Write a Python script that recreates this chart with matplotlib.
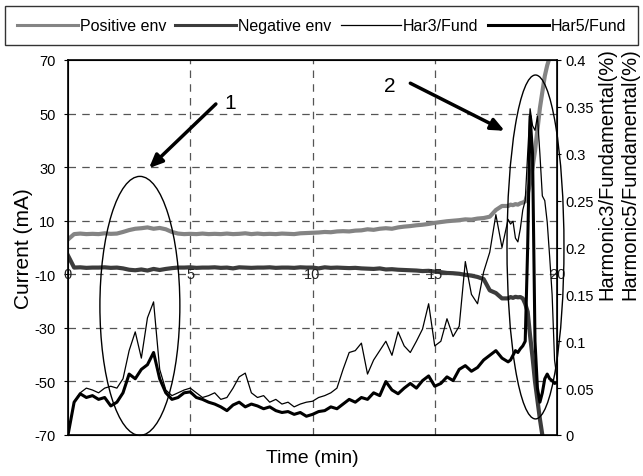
import matplotlib
matplotlib.use("Agg")
import matplotlib.pyplot as plt
from matplotlib.patches import Ellipse

plt.rcParams['font.family'] = ['Liberation Sans', 'DejaVu Sans']

# time axis (min)
t = [0, 0.25, 0.5, 0.75, 1.0, 1.25, 1.5, 1.75, 2.0, 2.25, 2.5, 2.75, 3.0, 3.25, 3.5, 3.75,
     4.0, 4.25, 4.5, 4.75, 5.0, 5.25, 5.5, 5.75, 6.0, 6.25, 6.5, 6.75, 7.0, 7.25, 7.5, 7.75,
     8.0, 8.25, 8.5, 8.75, 9.0, 9.25, 9.5, 9.75, 10.0, 10.25, 10.5, 10.75, 11.0, 11.25, 11.5, 11.75,
     12.0, 12.25, 12.5, 12.75, 13.0, 13.25, 13.5, 13.75, 14.0, 14.25, 14.5, 14.75, 15.0, 15.25, 15.5, 15.75,
     16.0, 16.25, 16.5, 16.75, 17.0, 17.25, 17.5, 17.75, 18.0, 18.1, 18.2, 18.3, 18.4, 18.5, 18.6, 18.7,
     18.8, 18.9, 19.0, 19.1, 19.2, 19.3, 19.4, 19.5, 19.6, 19.7, 19.8, 19.9, 20.0]

# positive / negative current envelope (mA)
pos_env = [3.0, 5.0, 5.2, 5.0, 5.1, 5.0, 5.3, 5.1, 5.2, 5.8, 6.5, 7.0, 7.2, 7.5, 7.0, 7.3,
           6.8, 5.8, 5.2, 5.0, 5.1, 5.0, 5.2, 5.0, 5.1, 5.0, 5.2, 5.0, 5.1, 5.3, 5.0, 5.2,
           5.0, 5.1, 5.0, 5.2, 5.1, 5.0, 5.3, 5.4, 5.5, 5.6, 5.8, 5.7, 6.0, 6.1, 6.0, 6.3,
           6.4, 6.8, 6.6, 7.0, 7.2, 7.0, 7.5, 7.8, 8.0, 8.3, 8.5, 8.8, 9.2, 9.5, 9.8, 10.0,
           10.2, 10.5, 10.4, 10.8, 11.0, 11.5, 14.0, 15.5, 15.5, 16.0, 15.8, 16.2, 16.0, 16.5, 16.8, 17.2,
           20.0, 24.0, 30.0, 36.0, 44.0, 52.0, 58.0, 64.0, 68.0, 71.0, 75.0, 78.0, 80.0]
neg_env = [-3.0, -7.5, -7.4, -7.6, -7.5, -7.5, -7.4, -7.6, -7.5, -7.8, -8.3, -8.5, -8.2, -8.6, -8.0, -8.4,
           -8.0, -7.7, -7.5, -7.5, -7.4, -7.6, -7.5, -7.5, -7.4, -7.6, -7.5, -7.8, -7.4, -7.5, -7.6, -7.5,
           -7.5, -7.4, -7.6, -7.5, -7.5, -7.6, -7.4, -7.5, -7.5, -7.8, -7.4, -7.6, -7.5, -7.6, -7.7, -7.6,
           -7.8, -7.9, -8.0, -7.8, -8.2, -8.1, -8.3, -8.4, -8.5, -8.6, -8.8, -8.7, -9.0, -9.2, -9.5, -9.6,
           -9.8, -10.2, -10.5, -11.0, -11.8, -16.0, -17.0, -19.0, -19.0, -18.5, -18.8, -18.4, -18.6, -18.5, -19.0, -21.0,
           -24.0, -33.0, -41.0, -50.0, -57.0, -64.0, -70.0, -75.0, -78.0, -80.0, -80.0, -80.0, -80.0]

# harmonic ratios
har3 = [0.0, 0.035, 0.045, 0.05, 0.048, 0.045, 0.05, 0.052, 0.05, 0.06, 0.09, 0.11, 0.082, 0.125, 0.142, 0.07,
        0.048, 0.042, 0.045, 0.048, 0.05, 0.045, 0.04, 0.042, 0.045, 0.038, 0.04, 0.05, 0.062, 0.066, 0.045, 0.04,
        0.042, 0.035, 0.038, 0.033, 0.035, 0.03, 0.033, 0.035, 0.036, 0.04, 0.042, 0.045, 0.05, 0.07, 0.088, 0.09,
        0.098, 0.065, 0.08, 0.09, 0.1, 0.085, 0.11, 0.095, 0.088, 0.1, 0.113, 0.14, 0.095, 0.1, 0.124, 0.105,
        0.116, 0.185, 0.15, 0.14, 0.174, 0.195, 0.235, 0.2, 0.23, 0.225, 0.228, 0.21, 0.206, 0.22, 0.24, 0.25,
        0.3, 0.348, 0.33, 0.325, 0.34, 0.3, 0.255, 0.25, 0.227, 0.19, 0.15, 0.08, 0.06]
har5 = [0.0, 0.035, 0.044, 0.04, 0.042, 0.038, 0.04, 0.031, 0.035, 0.045, 0.065, 0.06, 0.07, 0.075, 0.088, 0.06,
        0.045, 0.038, 0.04, 0.045, 0.046, 0.04, 0.038, 0.035, 0.033, 0.03, 0.026, 0.032, 0.035, 0.03, 0.033, 0.031,
        0.028, 0.03, 0.026, 0.024, 0.025, 0.022, 0.024, 0.02, 0.022, 0.025, 0.026, 0.03, 0.028, 0.033, 0.038, 0.035,
        0.04, 0.038, 0.045, 0.042, 0.057, 0.048, 0.044, 0.05, 0.055, 0.05, 0.058, 0.063, 0.052, 0.055, 0.062, 0.058,
        0.07, 0.074, 0.068, 0.072, 0.08, 0.085, 0.09, 0.082, 0.078, 0.08, 0.085, 0.09, 0.088, 0.092, 0.095, 0.1,
        0.2, 0.34, 0.3, 0.1, 0.05, 0.035, 0.045, 0.06, 0.065, 0.06, 0.058, 0.055, 0.056]

left_ticks = [-70, -50, -30, -10, 10, 30, 50, 70]
right_ticks = [0, 0.05, 0.1, 0.15, 0.2, 0.25, 0.3, 0.35, 0.4]
right_labels = ['0', '0.05', '0.1', '0.15', '0.2', '0.25', '0.3', '0.35', '0.4']
x_ticks = [0, 5, 10, 15, 20]

fig = plt.figure(figsize=(6.43, 4.77), dpi=100)
ax = fig.add_axes([68 / 643, 41 / 477, 489 / 643, 375 / 477])
ax2 = ax.twinx()

# dashed grid
for yv in [50, 30, 10, 0, -10, -30, -50]:
    ax.axhline(yv, color='#555555', lw=0.9, ls=(0, (6, 5)), zorder=0)
for xv in [5, 10, 15]:
    ax.axvline(xv, color='#555555', lw=0.9, ls=(0, (6, 5)), zorder=0)

l1, = ax.plot(t, pos_env, color='#848484', lw=3, label='Positive env')
l2, = ax.plot(t, neg_env, color='#3c3c3c', lw=3, label='Negative env')
l3, = ax2.plot(t, har3, color='black', lw=0.9, label='Har3/Fund')
l4, = ax2.plot(t, har5, color='black', lw=2.2, label='Har5/Fund')

ax.set_xlim(0, 20)
ax.set_ylim(-70, 70)
ax2.set_ylim(0, 0.4)
ax.set_yticks(left_ticks)
ax.set_yticklabels([str(v) for v in left_ticks], fontsize=10.5)
ax2.set_yticks(right_ticks)
ax2.set_yticklabels(right_labels, fontsize=10.5)
ax.tick_params(axis='y', direction='out', length=3, pad=6)
ax2.tick_params(axis='y', direction='out', length=3, pad=3)
ax.set_xticks(x_ticks)
ax.tick_params(axis='x', length=0, labelbottom=False)
for xv in x_ticks:
    ax.text(xv, -10, str(xv), ha='center', va='center', fontsize=10.5, color='#222222')

for sp in ax2.spines.values():
    sp.set_linewidth(1.2)

ax.set_xlabel('Time (min)', fontsize=14, labelpad=10)
ax.set_ylabel('Current (mA)', fontsize=15, labelpad=1)
fig.text(607 / 643, 1 - 174 / 477, 'Harmonic3/Fundamental(%)', rotation=90,
         ha='center', va='center', fontsize=14.5)
fig.text(630 / 643, 1 - 174 / 477, 'Harmonic5/Fundamental(%)', rotation=90,
         ha='center', va='center', fontsize=14.5)

# annotations
ax.add_patch(Ellipse((2.94, -21.8), 3.27, 96.7, fill=False, lw=1, color='black', clip_on=False, zorder=5))
ax.add_patch(Ellipse((19.12, 0.2), 2.33, 128.4, fill=False, lw=1, color='black', clip_on=False, zorder=5))
ax.annotate('', xy=(3.23, 28.9), xytext=(6.13, 54.3),
            arrowprops=dict(arrowstyle='-|>,head_length=0.8,head_width=0.35', lw=2.5, color='black'))
ax.text(6.65, 54.3, '1', fontsize=15, ha='center', va='center')
ax.annotate('', xy=(17.96, 43.1), xytext=(13.9, 61.8),
            arrowprops=dict(arrowstyle='-|>,head_length=0.8,head_width=0.35', lw=2.5, color='black'))
ax.text(13.17, 60.3, '2', fontsize=15, ha='center', va='center')

leg = fig.legend([l1, l2, l3, l4], ['Positive env', 'Negative env', 'Har3/Fund', 'Har5/Fund'],
                 loc='upper center', bbox_to_anchor=(0.5, 0.985), ncol=4, fontsize=11.5,
                 frameon=True, fancybox=False, edgecolor='black', handlelength=3.8,
                 handletextpad=0.1, columnspacing=0.6, borderpad=0.75, borderaxespad=0)
leg.get_frame().set_linewidth(1.0)
for h in leg.get_lines():
    h.set_linewidth(min(h.get_linewidth(), 2.2))

fig.savefig('out.png', dpi=100)
